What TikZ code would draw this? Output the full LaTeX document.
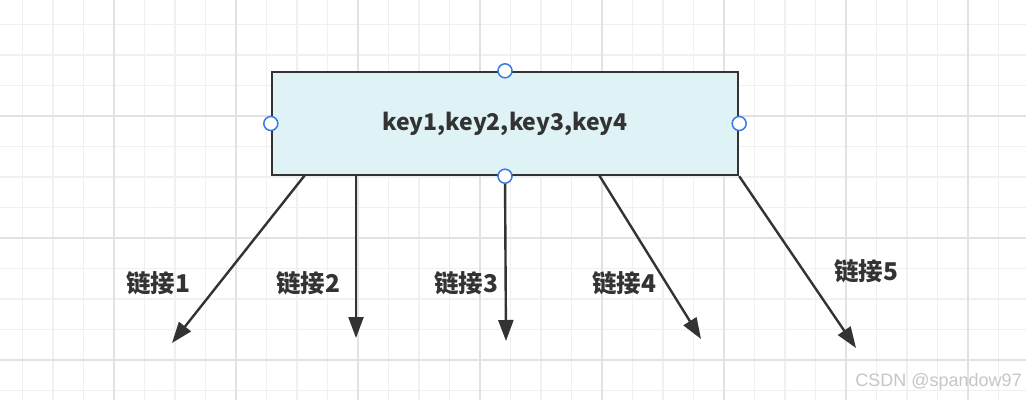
\documentclass[tikz,border=0pt]{standalone}
\usepackage{fontspec}
\setmainfont{Noto Sans CJK SC}
\newfontfamily\markfont{Liberation Sans}
\usetikzlibrary{arrows.meta,positioning}
\definecolor{boxfill}{HTML}{DFF2F5}
\definecolor{ink}{HTML}{333333}
\definecolor{handle}{HTML}{3B7BE0}
\definecolor{gridlo}{HTML}{F0F0F0}
\definecolor{gridhi}{HTML}{E2E2E2}

\begin{document}
\begin{tikzpicture}[
    x=1pt, y=-1pt,
    keybox/.style={rectangle, draw=ink, line width=2.4pt, fill=boxfill, minimum width=466pt, minimum height=103pt, font=\fontsize{23}{26}\selectfont\bfseries, text=ink},
    link/.style={-{Triangle[length=21pt,width=15pt]}, line width=2.4pt, draw=ink},
    linklabel/.style={font=\fontsize{24.5}{26}\selectfont\bfseries, text=ink, inner sep=0pt},
    dot/.style={circle, draw=handle, line width=1.5pt, fill=white, minimum size=14pt, inner sep=0pt},
    gridminor/.style={draw=gridlo, line width=1.2pt},
    gridmajor/.style={draw=gridhi, line width=1.6pt}
]
    \useasboundingbox (0,0) rectangle (1026,400);
    \fill[white] (0,0) rectangle (1026,400);

    % background grid
    \foreach \k in {0,...,34} {
        \draw[gridminor] ({-8+30.5*\k},0) -- ({-8+30.5*\k},400);
    }
    \foreach \k in {0,...,13} {
        \draw[gridminor] (0,{-6+30.5*\k}) -- (1026,{-6+30.5*\k});
    }
    \foreach \k in {0,...,9} {
        \draw[gridmajor] ({-8+122*\k},0) -- ({-8+122*\k},400);
    }
    \foreach \k in {0,...,3} {
        \draw[gridmajor] (0,{-6+122*\k}) -- (1026,{-6+122*\k});
    }

    \node[keybox] (keys) at (505,123.5) {key1,key2,key3,key4};

    % arrow ends
    \coordinate (s1) at (305,175);
    \coordinate (s4) at (599,175);
    \coordinate (e1) at (172,343);
    \coordinate (e2) at (356,338);
    \coordinate (e3) at (506,341);
    \coordinate (e4) at (701,339);
    \coordinate (e5) at (856,348);

    \draw[link] (s1) -- (e1);
    \draw[link] (keys.south -| e2) -- (e2);
    \draw[link] (keys.south) -- (e3);
    \draw[link] (s4) -- (e4);
    \draw[link] (keys.south east) -- (e5);

    \node[linklabel] (l1) at (158,283) {链接1};
    \node[linklabel] (l2) at (308,283) {链接2};
    \node[linklabel] (l3) at (466,283) {链接3};
    \node[linklabel] (l4) at (624,283) {链接4};
    \node[linklabel] (l5) at (866,271) {链接5};

    \node[dot] (h1) at (keys.north) {};
    \node[dot] (h2) at (keys.south) {};
    \node[dot] (h3) at (keys.west) {};
    \node[dot] (h4) at (keys.east) {};

    \node[font=\markfont\fontsize{18}{20}\selectfont, text=gray!45, anchor=east, inner sep=0pt] (mark) at (1022,382) {CSDN @spandow97};
\end{tikzpicture}
\end{document}
